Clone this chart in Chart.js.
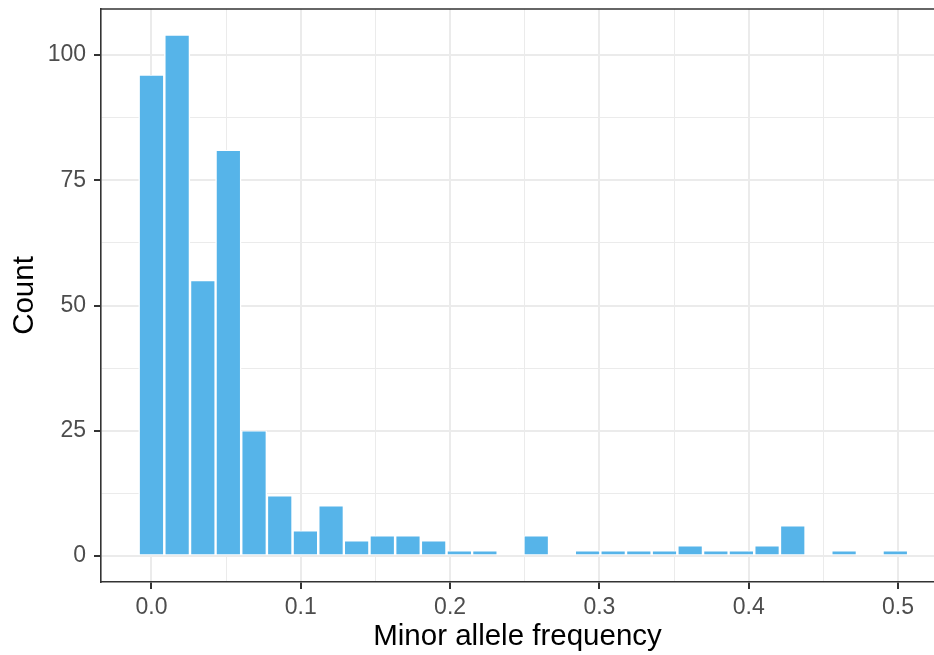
<!DOCTYPE html>
<html>
<head>
<meta charset="utf-8">
<script src="https://cdn.jsdelivr.net/npm/chart.js@4.4.1/dist/chart.umd.min.js"></script>
<style>
    html, body { margin: 0; padding: 0; background: #ffffff; overflow: hidden; }
    #wrap { width: 934px; height: 655px; position: relative; }
</style>
</head>
<body>
<div id="wrap"><canvas id="mafChart"></canvas></div>
<script>
// histogram bins (mid points) and counts
const binMids = [0.0000, 0.0172, 0.0344, 0.0515, 0.0687, 0.0859, 0.1031, 0.1203, 0.1374, 0.1546,
                 0.1718, 0.1890, 0.2062, 0.2233, 0.2405, 0.2577, 0.2749, 0.2921, 0.3092, 0.3264,
                 0.3436, 0.3608, 0.3780, 0.3951, 0.4123, 0.4295, 0.4467, 0.4639, 0.4810, 0.4982];
const counts = [96, 104, 55, 81, 25, 12, 5, 10, 3, 4,
                4, 3, 1, 1, 0, 4, 0, 1, 1, 1,
                1, 2, 1, 1, 2, 6, 0, 1, 0, 1];

// axis ticks: major ones get labels, minor ones only a grid line
const xMajorTicks = [0, 0.1, 0.2, 0.3, 0.4, 0.5];
const xMinorTicks = [0.05, 0.15, 0.25, 0.35, 0.45];
const yMajorTicks = [0, 25, 50, 75, 100];
const yMinorTicks = [12.5, 37.5, 62.5, 87.5];

const FONT = '"Liberation Sans", Arial, sans-serif';

const isMajor = (list, v) => list.some(m => Math.abs(m - v) < 1e-9);
const tickVal = c => (c && c.tick) ? c.tick.value : NaN;

// top edge of the panel border (left/bottom come from the axes)
const panelTop = {
    id: 'panelTop',
    afterDraw(chart) {
        const a = chart.chartArea;
        const ctx = chart.ctx;
        ctx.save();
        ctx.strokeStyle = '#333333';
        ctx.lineWidth = 1.6;
        ctx.beginPath();
        ctx.moveTo(a.left, a.top);
        ctx.lineTo(a.right, a.top);
        ctx.stroke();
        ctx.restore();
    }
};

const ctx = document.getElementById('mafChart').getContext('2d');
const mafChart = new Chart(ctx, {
    type: 'bar',
    data: {
        datasets: [{
            label: 'Count',
            data: binMids.map((m, i) => ({ x: m, y: counts[i] })),
            backgroundColor: '#56B4E9',
            borderColor: '#ffffff',
            borderWidth: { left: 1.5, right: 1.5, top: 1, bottom: 1 },
            borderSkipped: false,
            barPercentage: 1,
            categoryPercentage: 1
        }]
    },
    options: {
        responsive: true,
        maintainAspectRatio: false,
        animation: false,
        layout: {
            padding: { top: 9, right: 0, bottom: 0, left: 0 }
        },
        plugins: {
            legend: { display: false },
            tooltip: { enabled: false }
        },
        scales: {
            x: {
                type: 'linear',
                offset: false,
                min: -0.0338,
                max: 0.5241,
                afterBuildTicks: scale => {
                    scale.ticks = xMajorTicks.concat(xMinorTicks)
                        .sort((a, b) => a - b)
                        .map(v => ({ value: v }));
                },
                afterFit: scale => {
                    scale.height = 73;
                    scale.paddingLeft = 0;
                    scale.paddingRight = 0;
                },
                grid: {
                    offset: false,
                    color: '#ebebeb',
                    lineWidth: c => isMajor(xMajorTicks, tickVal(c)) ? 2 : 1,
                    tickColor: c => isMajor(xMajorTicks, tickVal(c)) ? '#333333' : 'rgba(0,0,0,0)',
                    tickLength: 7,
                    tickWidth: 2
                },
                border: { color: '#333333', width: 1.6 },
                ticks: {
                    autoSkip: false,
                    maxRotation: 0,
                    padding: 7,
                    color: '#4d4d4d',
                    font: { family: FONT, size: 23, lineHeight: 1 },
                    callback: v => isMajor(xMajorTicks, v) ? v.toFixed(1) : ''
                },
                title: {
                    display: true,
                    text: 'Minor allele frequency',
                    color: '#000000',
                    font: { family: FONT, size: 29.5, lineHeight: 1 },
                    padding: { top: 4, bottom: 3 }
                }
            },
            y: {
                min: -5.2,
                max: 109.2,
                afterBuildTicks: scale => {
                    scale.ticks = yMajorTicks.concat(yMinorTicks)
                        .sort((a, b) => a - b)
                        .map(v => ({ value: v }));
                },
                afterFit: scale => {
                    scale.width = 101;
                    scale.paddingTop = 0;
                    scale.paddingBottom = 0;
                },
                grid: {
                    color: '#ebebeb',
                    lineWidth: c => isMajor(yMajorTicks, tickVal(c)) ? 2 : 1,
                    tickColor: c => isMajor(yMajorTicks, tickVal(c)) ? '#333333' : 'rgba(0,0,0,0)',
                    tickLength: 7,
                    tickWidth: 2
                },
                border: { color: '#333333', width: 1.6 },
                ticks: {
                    autoSkip: false,
                    padding: 8,
                    color: '#4d4d4d',
                    font: { family: FONT, size: 23, lineHeight: 1 },
                    callback: v => isMajor(yMajorTicks, v) ? String(v) : ''
                },
                title: {
                    display: true,
                    text: 'Count',
                    color: '#000000',
                    font: { family: FONT, size: 29.5, lineHeight: 1 },
                    padding: { top: 10, bottom: 8 }
                }
            }
        }
    },
    plugins: [panelTop]
});
</script>
</body>
</html>
